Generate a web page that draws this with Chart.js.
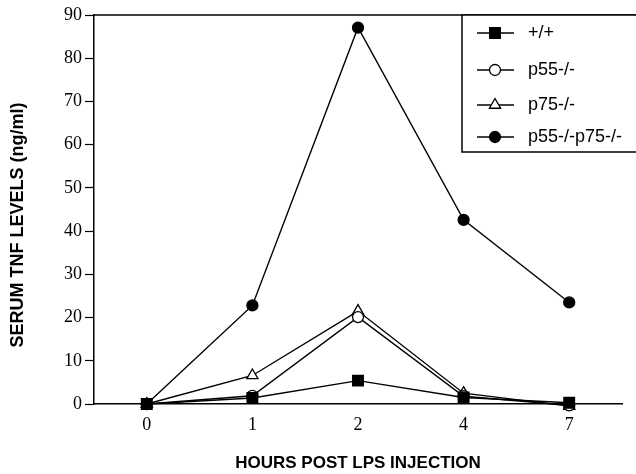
<!DOCTYPE html>
<html>
<head>
  <meta charset="UTF-8">
  <title>Serum TNF levels</title>
  <script src="https://cdn.jsdelivr.net/npm/chart.js"></script>
  <style>
    body { margin: 0; padding: 0; background: white; }
    #wrap { width: 636px; height: 474px; }
  </style>
</head>
<body>
  <div id="wrap"><canvas id="grafica"></canvas></div>

  <script type="text/javascript">
    const horas = ['0', '1', '2', '4', '7'];
    const wildType = [0, 1.4, 5.4, 1.5, 0.3];
    const p55 = [0, 1.9, 20.1, 1.8, -0.3];
    const p75 = [0, 6.6, 21.5, 2.5, -0.5];
    const p55p75 = [0, 22.8, 87.1, 42.6, 23.5];
    const yTicks = [0, 10, 20, 30, 40, 50, 60, 70, 80, 90];
    const tituloY = 'SERUM TNF LEVELS (ng/ml)';

    const radios = { rect: 7.5, circle: 5.5, triangle: 6.5 };

    function serie(label, data, estilo, relleno) {
      return {
        label: label,
        data: data,
        borderColor: '#000',
        borderWidth: 1.4,
        backgroundColor: relleno ? '#000' : '#fff',
        pointStyle: estilo,
        pointRadius: radios[estilo],
        pointBorderColor: '#000',
        pointBorderWidth: 1.3,
        fill: false,
        tension: 0
      };
    }

    // marco superior, titulo Y y leyenda con linea + marcador
    const leyendaCaja = {
      id: 'leyendaCaja',
      afterDraw(chart) {
        const ctx = chart.ctx;
        const a = chart.chartArea;
        ctx.save();
        ctx.strokeStyle = '#000';
        ctx.lineWidth = 1.5;
        ctx.beginPath();
        ctx.moveTo(a.left, a.top);
        ctx.lineTo(636, a.top);
        ctx.stroke();

        // titulo del eje Y (algo mas abajo que el centro del area)
        ctx.save();
        ctx.translate(18, 225);
        ctx.rotate(-Math.PI / 2);
        ctx.font = 'bold 18px "Liberation Sans", Arial, sans-serif';
        ctx.fillStyle = '#000';
        ctx.textAlign = 'center';
        ctx.textBaseline = 'middle';
        ctx.fillText(tituloY, 0, 0);
        ctx.restore();

        const x0 = 462, y0 = a.top, y1 = 152;
        ctx.fillStyle = '#fff';
        ctx.fillRect(x0, y0, 636 - x0, y1 - y0);
        ctx.beginPath();
        ctx.moveTo(636, y0);
        ctx.lineTo(x0, y0);
        ctx.lineTo(x0, y1);
        ctx.lineTo(636, y1);
        ctx.stroke();

        const filas = [33, 70, 105, 137];
        ctx.font = '18px "Liberation Sans", Arial, sans-serif';
        ctx.textBaseline = 'middle';
        chart.data.datasets.forEach((ds, i) => {
          const y = filas[i];
          ctx.strokeStyle = '#000';
          ctx.lineWidth = 1.4;
          ctx.beginPath();
          ctx.moveTo(477, y);
          ctx.lineTo(514, y);
          ctx.stroke();
          ctx.fillStyle = ds.backgroundColor;
          ctx.lineWidth = 1.3;
          Chart.helpers.drawPoint(ctx, {
            pointStyle: ds.pointStyle,
            radius: ds.pointRadius,
            borderWidth: 1.3,
            rotation: 0
          }, 495, y);
          ctx.fillStyle = '#000';
          ctx.fillText(ds.label, 528, y);
        });
        ctx.restore();
      }
    };

    new Chart(document.getElementById('grafica'), {
      type: 'line',
      data: {
        labels: horas,
        datasets: [
          serie('+/+', wildType, 'rect', true),
          serie('p55-/-', p55, 'circle', false),
          serie('p75-/-', p75, 'triangle', false),
          serie('p55-/-p75-/-', p55p75, 'circle', true)
        ]
      },
      options: {
        responsive: true,
        maintainAspectRatio: false,
        animation: false,
        layout: { padding: { top: 15, right: 14, left: 0, bottom: 0 } },
        plugins: {
          legend: { display: false },
          tooltip: { enabled: false }
        },
        clip: false,
        scales: {
          x: {
            type: 'category',
            offset: true,
            grid: { display: false, drawTicks: false },
            border: { color: '#000', width: 1.5 },
            ticks: {
              color: '#000',
              padding: 10,
              font: { family: '"Liberation Serif", "Times New Roman", serif', size: 18 }
            },
            title: {
              display: true,
              text: 'HOURS POST LPS INJECTION',
              color: '#000',
              padding: { top: 14, bottom: 0 },
              font: { family: '"Liberation Sans", Arial, sans-serif', size: 17, weight: 'bold' }
            },
            afterFit(s) { s.height = 70; }
          },
          y: {
            min: 0,
            max: 90,
            afterBuildTicks(s) { s.ticks = yTicks.map(v => ({ value: v })); },
            grid: {
              display: true,
              drawOnChartArea: false,
              drawTicks: true,
              tickLength: 9,
              tickColor: '#000',
              tickWidth: 1.2
            },
            border: { color: '#000', width: 1.5 },
            ticks: {
              color: '#000',
              padding: 3,
              font: { family: '"Liberation Serif", "Times New Roman", serif', size: 18 }
            },
            afterFit(s) { s.width = 94; }
          }
        }
      },
      plugins: [leyendaCaja]
    });
  </script>
</body>
</html>
